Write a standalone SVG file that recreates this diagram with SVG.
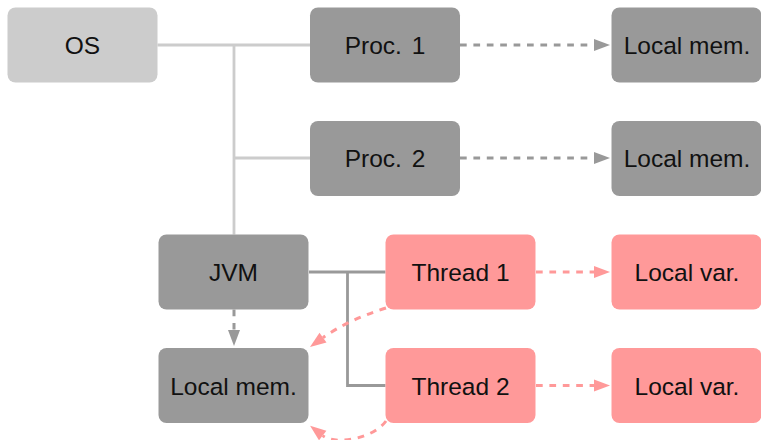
<svg xmlns="http://www.w3.org/2000/svg" width="761" height="440" viewBox="0 0 761 440">
  <style>
    .box { stroke: none; }
    .os { fill: #cccccc; }
    .gray { fill: #999999; }
    .pink { fill: #ff9999; }
    .label { font-family: "Liberation Sans", Arial, sans-serif; font-size: 24.5px; fill: #111111; text-anchor: middle; }
    .wide { word-spacing: 3px; }
    .tree-os { fill: none; stroke: #cccccc; stroke-width: 2.8; }
    .tree-jvm { fill: none; stroke: #999999; stroke-width: 2.8; }
    .dash-gray { fill: none; stroke: #999999; stroke-width: 3; stroke-dasharray: 6.7 6.7; marker-end: url(#arrowGray); }
    .dash-pink { fill: none; stroke: #ff9999; stroke-width: 3; stroke-dasharray: 6.7 6.7; marker-end: url(#arrowPink); }
  </style>
  <defs>
    <marker id="arrowGray" markerUnits="userSpaceOnUse" markerWidth="16" markerHeight="12" refX="0" refY="6" orient="auto" overflow="visible">
      <path d="M0,0 L16,6 L0,12 z" fill="#999999"/>
    </marker>
    <marker id="arrowPink" markerUnits="userSpaceOnUse" markerWidth="16" markerHeight="12" refX="0" refY="6" orient="auto" overflow="visible">
      <path d="M0,0 L16,6 L0,12 z" fill="#ff9999"/>
    </marker>
  </defs>

  <!-- connectors -->
  <g id="connectors">
    <path class="tree-os" d="M157.5 45 H310 M234 45 V234.5 M234 158 H310"/>
    <path class="tree-jvm" d="M309 272 H385.5 M347.5 272 V385.5 H385.5"/>
    <path class="dash-gray" d="M460 45 H594"/>
    <path class="dash-gray" d="M460 158 H594"/>
    <path class="dash-gray" d="M234 309.5 V330"/>
    <path class="dash-pink" d="M536 272 H594"/>
    <path class="dash-pink" d="M536 385.5 H594"/>
    <path class="dash-pink" d="M386 308 Q347.4 320.2 323 337.7"/>
    <path class="dash-pink" d="M386 421 C374 438 336 446 322.7 435.6"/>
  </g>

  <!-- nodes -->
  <g id="os">
    <rect class="box os" x="7.5" y="7.5" width="150" height="75" rx="8"/>
    <text class="label" x="82.5" y="54">OS</text>
  </g>
  <g id="proc1">
    <rect class="box gray" x="310" y="7.5" width="150" height="75" rx="8"/>
    <text class="label wide" x="385" y="54">Proc. 1</text>
  </g>
  <g id="proc1-mem">
    <rect class="box gray" x="611.5" y="7.5" width="150" height="75" rx="8"/>
    <text class="label" x="687" y="54">Local mem.</text>
  </g>
  <g id="proc2">
    <rect class="box gray" x="310" y="121" width="150" height="75" rx="8"/>
    <text class="label wide" x="385" y="167">Proc. 2</text>
  </g>
  <g id="proc2-mem">
    <rect class="box gray" x="611.5" y="121" width="150" height="75" rx="8"/>
    <text class="label" x="687" y="167">Local mem.</text>
  </g>
  <g id="jvm">
    <rect class="box gray" x="158.5" y="234.5" width="150" height="75" rx="8"/>
    <text class="label" x="233.5" y="281">JVM</text>
  </g>
  <g id="thread1">
    <rect class="box pink" x="385.5" y="234.5" width="150" height="75" rx="8"/>
    <text class="label" x="460.5" y="281">Thread 1</text>
  </g>
  <g id="thread1-var">
    <rect class="box pink" x="611.5" y="234.5" width="150" height="75" rx="8"/>
    <text class="label" x="687" y="281">Local var.</text>
  </g>
  <g id="jvm-mem">
    <rect class="box gray" x="158.5" y="348" width="150" height="75" rx="8"/>
    <text class="label" x="233.5" y="394.5">Local mem.</text>
  </g>
  <g id="thread2">
    <rect class="box pink" x="385.5" y="348" width="150" height="75" rx="8"/>
    <text class="label" x="460.5" y="394.5">Thread 2</text>
  </g>
  <g id="thread2-var">
    <rect class="box pink" x="611.5" y="348" width="150" height="75" rx="8"/>
    <text class="label" x="687" y="394.5">Local var.</text>
  </g>
</svg>
